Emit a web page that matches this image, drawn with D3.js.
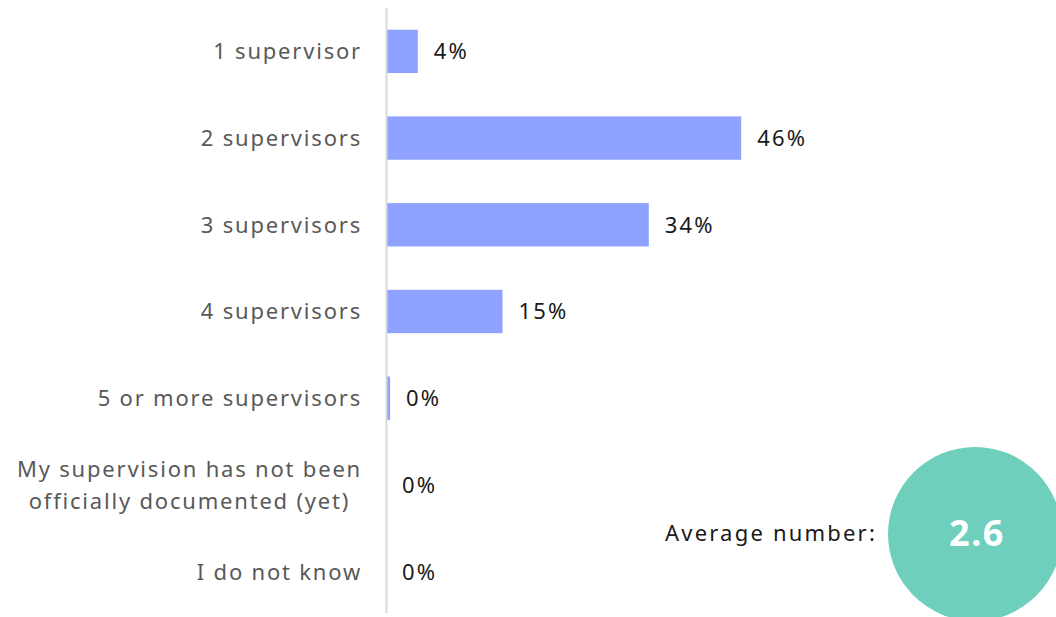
<!DOCTYPE html>
<html>
<head>
<meta charset="UTF-8">
<title>Number of supervisors</title>
<style>
    body { margin: 0; background: #fff; }
    svg { display: block; font-family: "Noto Sans", "Open Sans", sans-serif; }
    .cat { font-size: 22px; fill: #595959; letter-spacing: 1.8px; }
    .val { font-size: 22px; fill: #1a1a1a; letter-spacing: 2.2px; }
</style>
</head>
<body>
<script src="https://d3js.org/d3.v7.min.js"></script>
<svg id="svg" width="1056" height="617"></svg>
<script>
    // answers and share of respondents (%)
    const categories = ["1 supervisor", "2 supervisors", "3 supervisors", "4 supervisors", "5 or more supervisors",
        "My supervision has not been\nofficially documented (yet)", "I do not know"];
    const shares = [4, 46, 34, 15, 0.4, 0, 0];
    const avgLabel = "Average number:";
    const avgValue = 2.6;

    var svg = d3.select("#svg"),
        axisX = 387;

    var x = d3.scaleLinear().domain([0, 100]).range([axisX, axisX + 770]);
    var y = d3.scaleBand().domain(categories).range([8, 615]).paddingInner(0.5).paddingOuter(0.25);

    // bars
    svg.selectAll("rect.bar").data(shares).enter().append("rect")
        .attr("class", "bar")
        .attr("x", x(0))
        .attr("y", (d, i) => y(categories[i]))
        .attr("width", d => x(d) - x(0))
        .attr("height", y.bandwidth())
        .attr("fill", "#8fa2ff");

    // vertical axis line
    svg.append("line")
        .attr("x1", axisX - 0.5).attr("x2", axisX - 0.5)
        .attr("y1", 8).attr("y2", 613)
        .attr("stroke", "#d9d9d9").attr("stroke-width", 2);

    // value labels
    svg.selectAll("text.val").data(shares).enter().append("text")
        .attr("class", "val")
        .attr("x", d => x(d) + (d > 0 ? 16 : 15))
        .attr("y", (d, i) => y(categories[i]) + y.bandwidth() / 2 + 2)
        .attr("dominant-baseline", "middle")
        .text(d => Math.round(d) + "%");

    // category labels, multi-line ones centred on their widest line
    categories.forEach(function (c) {
        var lines = c.split("\n"),
            cy = y(c) + y.bandwidth() / 2 + 2,
            lh = 32;
        var t = svg.append("text").attr("class", "cat").attr("text-anchor", lines.length > 1 ? "middle" : "end");
        lines.forEach(function (l, j) {
            t.append("tspan").attr("x", 362).attr("y", cy + (j - (lines.length - 1) / 2) * lh)
                .attr("dominant-baseline", "middle").text(l);
        });
        if (lines.length > 1) {
            var w = d3.max(t.selectAll("tspan").nodes(), n => n.getComputedTextLength());
            t.selectAll("tspan").attr("x", 362 - w / 2);
        }
    });

    // average bubble
    svg.append("circle").attr("cx", 975).attr("cy", 534).attr("r", 87).attr("fill", "#6ecfbd");
    svg.append("text").attr("x", 977).attr("y", 536)
        .attr("text-anchor", "middle").attr("dominant-baseline", "middle")
        .style("font-size", "36px").style("font-weight", "bold").style("letter-spacing", "1.5px").attr("fill", "#fff")
        .text(avgValue.toFixed(1));
    svg.append("text").attr("class", "val").attr("x", 877).attr("y", 535)
        .attr("text-anchor", "end").attr("dominant-baseline", "middle")
        .text(avgLabel);
</script>
</body>
</html>
